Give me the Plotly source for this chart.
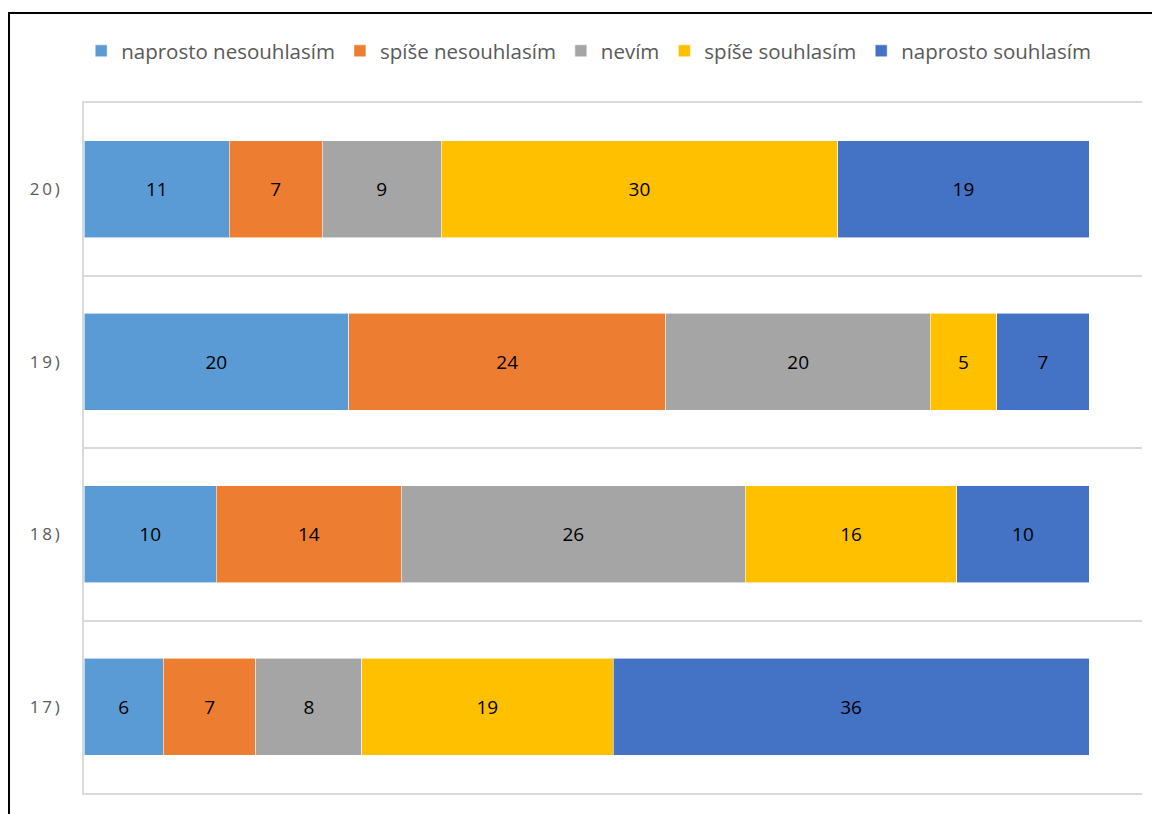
import plotly.graph_objects as go

categories = ["17)", "18)", "19)", "20)"]
series_names = ["naprosto nesouhlasím", "spíše nesouhlasím", "nevím", "spíše souhlasím", "naprosto souhlasím"]
naprosto_nesouhlasim = [6, 10, 20, 11]
spise_nesouhlasim = [7, 14, 24, 7]
nevim = [8, 26, 20, 9]
spise_souhlasim = [19, 16, 5, 30]
naprosto_souhlasim = [36, 10, 7, 19]
colors = ["#5B9BD5", "#ED7D31", "#A5A5A5", "#FFC000", "#4472C4"]

series_values = [naprosto_nesouhlasim, spise_nesouhlasim, nevim, spise_souhlasim, naprosto_souhlasim]

ypos = list(range(len(categories)))
ticktext = ["\u2009".join(list(c)) for c in categories]

FONT = "Open Sans, Liberation Sans, sans-serif"
OFF = 8  # page body offset
W, H = 1160 - OFF, 814 - OFF
L, T, R, B = 84 - OFF, 103 - OFF, 18, 21
PW, PH = W - L - R, H - T - B

fig = go.Figure()
for name, vals, col in zip(series_names, series_values, colors):
    fig.add_trace(go.Bar(
        y=ypos, x=vals, name=name, orientation="h",
        marker=dict(color=col, line=dict(color="rgba(255,255,255,0.7)", width=0.8)),
        text=vals, textposition="inside", insidetextanchor="middle",
        textfont=dict(color="black", size=19, family=FONT),
        width=0.564,
    ))

fig.update_layout(
    barmode="stack",
    width=W, height=H,
    margin=dict(l=L, r=R, t=T, b=B, autoexpand=False),
    paper_bgcolor="white", plot_bgcolor="white",
    font=dict(family=FONT, color="#595959"),
    showlegend=True,
    legend=dict(orientation="h", x=0.477, xanchor="center", y=1 + 52 / PH, yanchor="middle",
                font=dict(size=20.5, color="#595959"), traceorder="normal",
                bgcolor="rgba(0,0,0,0)", itemwidth=30, tracegroupgap=0),
    uniformtext=dict(mode="show", minsize=10),
    xaxis=dict(range=[0, 80], showgrid=False, showticklabels=False, zeroline=False,
               showline=True, mirror=True, linecolor="#D9D9D9", linewidth=1.5,
               ticks="", automargin=False),
    yaxis=dict(range=[-0.5, 3.5], tickvals=ypos, ticktext=ticktext, showgrid=False,
               zeroline=False, showline=True, linecolor="#D9D9D9", linewidth=1.5,
               ticks="", ticklabelstandoff=19, automargin=False,
               tickfont=dict(size=17, color="#595959"),
               minor=dict(tickvals=[0.5, 1.5, 2.5], showgrid=True,
                          gridcolor="#D9D9D9", gridwidth=1.5, ticks="")),
    shapes=[dict(type="rect", xref="paper", yref="paper",
                 x0=(1 - L) / PW, x1=(W + 40 - L) / PW,
                 y0=-(B + 80) / PH, y1=1 + (T - 5) / PH,
                 line=dict(color="black", width=2), fillcolor="rgba(0,0,0,0)")],
)

fig.write_html("out.html")
